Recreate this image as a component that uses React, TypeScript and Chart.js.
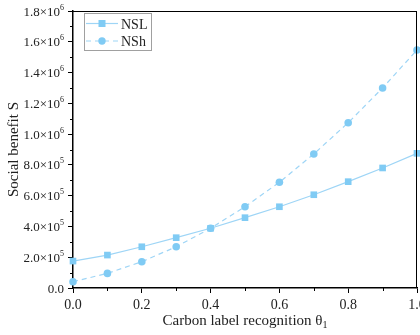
import React, { useEffect, useRef } from "react";
import { Chart, registerables } from "chart.js";

Chart.register(...registerables);

const xValues = [0, 0.1, 0.2, 0.3, 0.4, 0.5, 0.6, 0.7, 0.8, 0.9, 1.0];
const nslValues = [175000, 214000, 268000, 327000, 388000, 457000, 528000, 606000, 691000, 780000, 875000];
const nshValues = [41000, 95000, 171000, 268000, 388000, 528000, 687000, 871000, 1074000, 1300000, 1547000];
const seriesNames = ["NSL", "NSh"];
const yTickValues = [0, 200000, 400000, 600000, 800000, 1000000, 1200000, 1400000, 1600000, 1800000];
const yTickMantissa = ["0.0", "2.0", "4.0", "6.0", "8.0", "1.0", "1.2", "1.4", "1.6", "1.8"];
const yTickExponent = ["", "5", "5", "5", "5", "6", "6", "6", "6", "6"];
const xTitle = "Carbon label recognition θ";
const xTitleSub = "1";
const yTitle = "Social benefit S";

const LINE = "#9ed5f6";
const MARK = "#80cbf4";
const FONT = "'Liberation Serif', 'Times New Roman', serif";

const decorPlugin = {
  id: "decor",
  afterDraw(chart: any) {
    const ctx = chart.ctx as CanvasRenderingContext2D;
    const { left, right, top, bottom } = chart.chartArea;
    const xs = chart.scales.x;
    const ys = chart.scales.y;
    ctx.save();
    // frame
    ctx.strokeStyle = "#000";
    ctx.lineWidth = 1;
    ctx.beginPath();
    ctx.moveTo(left, top + 0.5);
    ctx.lineTo(right, top + 0.5);
    ctx.moveTo(right - 0.5, top);
    ctx.lineTo(right - 0.5, bottom);
    ctx.stroke();
    // minor ticks
    ctx.beginPath();
    for (let i = 0; i < yTickValues.length - 1; i++) {
      const v = (yTickValues[i] + yTickValues[i + 1]) / 2;
      const py = Math.round(ys.getPixelForValue(v)) + 0.5;
      ctx.moveTo(left - 3, py);
      ctx.lineTo(left, py);
    }
    for (let v = 0.1; v < 1; v += 0.2) {
      const px = Math.round(xs.getPixelForValue(v)) + 0.5;
      ctx.moveTo(px, bottom);
      ctx.lineTo(px, bottom + 3);
    }
    ctx.stroke();
    // y tick labels
    ctx.fillStyle = "#222";
    ctx.textBaseline = "alphabetic";
    yTickValues.forEach((v, i) => {
      const py = ys.getPixelForValue(v);
      const main = yTickMantissa[i] + (yTickExponent[i] ? "×10" : "");
      ctx.font = `13px ${FONT}`;
      const mw = ctx.measureText(main).width;
      ctx.font = `8px ${FONT}`;
      const ew = yTickExponent[i] ? ctx.measureText(yTickExponent[i]).width : 0;
      const endX = left - 9;
      const startX = endX - mw - ew;
      ctx.font = `13px ${FONT}`;
      ctx.textAlign = "left";
      ctx.fillText(main, startX, py + 4.5);
      if (yTickExponent[i]) {
        ctx.font = `8px ${FONT}`;
        ctx.fillText(yTickExponent[i], startX + mw, py - 1.5);
      }
    });
    // x title
    ctx.font = `15px ${FONT}`;
    const tw = ctx.measureText(xTitle).width;
    ctx.font = `10px ${FONT}`;
    const sw = ctx.measureText(xTitleSub).width;
    const cx = (left + right) / 2;
    const sx = cx - (tw + sw) / 2;
    ctx.textAlign = "left";
    ctx.font = `15px ${FONT}`;
    ctx.fillText(xTitle, sx, 325);
    ctx.font = `10px ${FONT}`;
    ctx.fillText(xTitleSub, sx + tw, 328);
    // legend
    const bx = 84.5, by = 13.5, bw = 67, bh = 37;
    ctx.strokeStyle = "#a0a0a0";
    ctx.lineWidth = 1;
    ctx.strokeRect(bx, by, bw, bh);
    const rows = [23.5, 41];
    rows.forEach((ry, i) => {
      ctx.strokeStyle = LINE;
      ctx.lineWidth = 1.2;
      ctx.setLineDash(i === 1 ? [5, 4] : []);
      ctx.beginPath();
      ctx.moveTo(86, ry);
      ctx.lineTo(118, ry);
      ctx.stroke();
      ctx.setLineDash([]);
      ctx.fillStyle = MARK;
      if (i === 0) {
        ctx.fillRect(102 - 3.5, ry - 3.5, 7, 7);
      } else {
        ctx.beginPath();
        ctx.arc(102, ry, 3.7, 0, Math.PI * 2);
        ctx.fill();
      }
      ctx.fillStyle = "#222";
      ctx.font = `14px ${FONT}`;
      ctx.textAlign = "left";
      ctx.fillText(seriesNames[i], 121, ry + 5);
    });
    ctx.restore();
  },
};

export default function App() {
  const ref = useRef<HTMLCanvasElement | null>(null);
  useEffect(() => {
    if (!ref.current) return;
    const chart = new Chart(ref.current, {
      type: "line",
      data: {
        datasets: [
          {
            label: seriesNames[0],
            data: xValues.map((x, i) => ({ x, y: nslValues[i] })),
            borderColor: LINE,
            backgroundColor: MARK,
            pointBackgroundColor: MARK,
            pointBorderColor: MARK,
            pointBorderWidth: 0,
            pointStyle: "rect",
            pointRadius: 4.7,
            borderWidth: 1.2,
            clip: false as any,
          },
          {
            label: seriesNames[1],
            data: xValues.map((x, i) => ({ x, y: nshValues[i] })),
            borderColor: LINE,
            backgroundColor: MARK,
            pointBackgroundColor: MARK,
            pointBorderColor: MARK,
            pointBorderWidth: 0,
            pointStyle: "circle",
            pointRadius: 3.8,
            borderWidth: 1.2,
            borderDash: [5, 4],
            clip: false as any,
          },
        ],
      },
      options: {
        animation: false,
        responsive: false,
        layout: { padding: { left: 0, right: 23, top: 11, bottom: 0 } },
        plugins: { legend: { display: false }, tooltip: { enabled: false } },
        scales: {
          x: {
            type: "linear",
            min: 0,
            max: 1,
            ticks: {
              stepSize: 0.2,
              color: "#222",
              font: { family: FONT, size: 14 },
              padding: 4,
              callback: (v: any) => Number(v).toFixed(1),
              maxRotation: 0,
            },
            grid: { display: true, drawOnChartArea: false, drawTicks: true, tickLength: 5, color: "#000" },
            border: { display: true, color: "#000", width: 1.5 },
            afterFit: (s: any) => {
              s.height = 47;
            },
          },
          y: {
            type: "linear",
            min: 0,
            max: 1800000,
            ticks: { stepSize: 200000, display: false },
            grid: { display: true, drawOnChartArea: false, drawTicks: true, tickLength: 5, color: "#000" },
            border: { display: true, color: "#000", width: 1.5 },
            title: {
              display: true,
              text: yTitle,
              color: "#222",
              font: { family: FONT, size: 15 },
              padding: { top: 5, bottom: 0 },
            },
            afterFit: (s: any) => {
              s.width = 73;
            },
          },
        },
      },
      plugins: [decorPlugin],
    });
    return () => chart.destroy();
  }, []);
  return (
    <div style={{ position: "fixed", left: 0, top: 0, width: 420, height: 335, overflow: "hidden", background: "#fff" }}>
      <canvas ref={ref} width={440} height={335} style={{ width: 440, height: 335, display: "block" }} />
    </div>
  );
}
